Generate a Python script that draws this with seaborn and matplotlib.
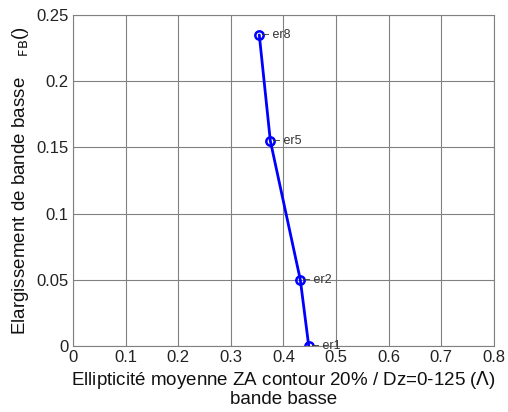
import matplotlib
matplotlib.use("Agg")
import matplotlib.pyplot as plt
import seaborn as sns
import pandas as pd

labels = ["er1", "er2", "er5", "er8"]
ellipticity = [0.448, 0.432, 0.375, 0.354]
elargissement = [0.0, 0.050, 0.155, 0.235]

xticks = [0, 0.1, 0.2, 0.3, 0.4, 0.5, 0.6, 0.7, 0.8]
xticklabels = ["0", "0.1", "0.2", "0.3", "0.4", "0.5", "0.6", "0.7", "0.8"]
yticks = [0, 0.05, 0.1, 0.15, 0.2, 0.25]
yticklabels = ["0", "0.05", "0.1", "0.15", "0.2", "0.25"]

sns.set_theme(style="white")
plt.rcParams["font.family"] = ["Liberation Sans", "DejaVu Sans"]

df = pd.DataFrame({"x": ellipticity, "y": elargissement, "label": labels})

fig = plt.figure(figsize=(5.08, 4.12), dpi=100)
ax = fig.add_axes([0.1437, 0.160, 0.8287, 0.8034])

sns.lineplot(data=df, x="x", y="y", ax=ax, sort=False, color="#0000ff",
             linewidth=2.0, marker="o", markersize=6, markerfacecolor="none",
             markeredgecolor="#0000ff", markeredgewidth=1.8)

for xv, yv, lab in zip(ellipticity, elargissement, labels):
    ax.annotate("\u2013 " + lab, xy=(xv, yv), xytext=(2, 0), textcoords="offset points",
                fontsize=9, color="#333333", va="center", ha="left", clip_on=False)

ax.set_xlim(0, 0.8)
ax.set_ylim(0, 0.25)
ax.set_xticks(xticks)
ax.set_xticklabels(xticklabels)
ax.set_yticks(yticks)
ax.set_yticklabels(yticklabels)
ax.tick_params(axis="both", length=0, labelsize=12, colors="#222222", pad=3)
ax.grid(True, color="#808080", linewidth=0.8)
for s in ax.spines.values():
    s.set_color("#808080")
    s.set_linewidth(0.8)

ax.set_xlabel("Ellipticit\u00e9 moyenne ZA contour 20% / Dz=0-125 ($\\Lambda$)\nbande basse",
              fontsize=13.5, color="#111111", labelpad=3, linespacing=1.0)
ax.set_ylabel("Elargissement de bande basse    $_{\\mathrm{FB}}$()", fontsize=13.5,
              color="#111111", labelpad=4)

fig.savefig("out.png", dpi=100)
